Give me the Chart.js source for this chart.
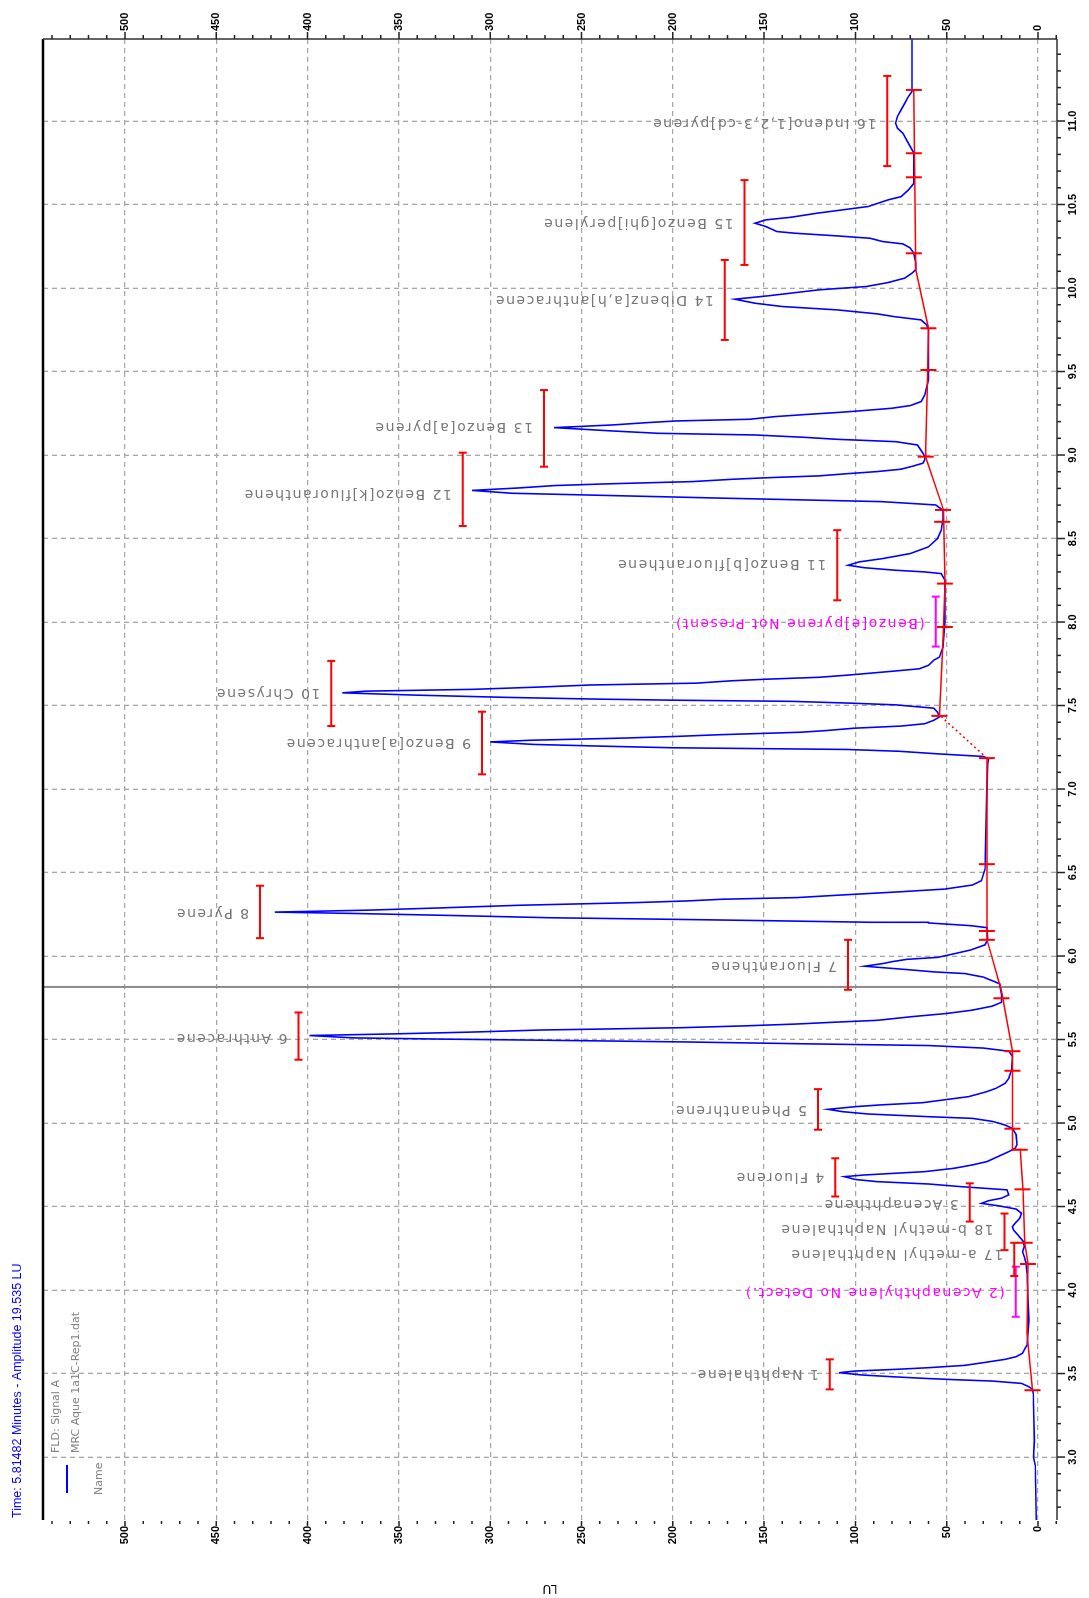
<!DOCTYPE html>
<html>
<head>
<meta charset="utf-8">
<title>FLD chromatogram</title>
<script src="https://cdn.jsdelivr.net/npm/chart.js@4.4.1/dist/chart.umd.min.js"></script>
<style>
  html, body { margin: 0; padding: 0; background: #fff; overflow: hidden; }
  #wrap {
    position: absolute; left: 0; top: 0;
    width: 1598px; height: 1089px;
    transform-origin: 0 0;
    transform: translateY(1598px) rotate(-90deg);
  }
</style>
</head>
<body>
<div id="wrap"><canvas id="chromatogram" width="1598" height="1089"></canvas></div>
<script>
// signal trace, [time (min), LU]
const signal = [
  [2.62, 1.0], [2.80, 1.2], [2.95, 1.5], [3.00, 2.5], [3.10, 2.0], [3.25, 2.3], [3.38, 2.6],
  // 1 naphthalene
  [3.405, 3], [3.421, 5], [3.441, 9], [3.455, 25], [3.463, 45], [3.471, 62], [3.481, 80], [3.491, 96],
  [3.505, 109], [3.515, 100], [3.525, 78], [3.535, 60], [3.549, 40], [3.565, 30], [3.585, 18],
  [3.601, 12], [3.621, 8.5], [3.671, 6], [3.741, 5.5], [3.82, 5],
  [3.95, 5.5], [4.10, 6], [4.16, 6.5], [4.20, 7.5], [4.23, 8.5], [4.26, 7.5],
  [4.29, 8], [4.33, 11], [4.36, 13.5], [4.38, 14], [4.40, 12.5], [4.43, 10], [4.46, 9],
  [4.485, 12], [4.505, 22], [4.519, 31], [4.535, 27], [4.55, 20], [4.57, 16],
  // 4 fluorene
  [4.60, 17], [4.619, 42], [4.635, 60], [4.649, 88], [4.662, 100], [4.679, 106], [4.689, 95],
  [4.709, 62], [4.729, 46], [4.749, 36], [4.769, 28], [4.799, 22], [4.829, 16], [4.849, 12.5],
  // 5 phenanthrene
  [4.87, 11.5], [4.93, 12], [4.968, 14], [4.988, 18], [5.010, 25], [5.028, 36], [5.038, 60],
  [5.054, 93], [5.068, 107], [5.082, 115], [5.098, 100], [5.108, 87], [5.122, 63], [5.138, 52],
  [5.158, 38], [5.188, 28], [5.208, 23], [5.238, 18], [5.268, 16], [5.318, 14.5], [5.40, 14],
  // 6 anthracene
  [5.43, 16], [5.449, 30], [5.464, 60], [5.474, 125], [5.486, 196], [5.496, 272], [5.503, 330],
  [5.510, 375], [5.524, 399], [5.534, 352], [5.545, 309], [5.557, 272], [5.564, 232], [5.571, 195],
  [5.582, 160], [5.593, 132], [5.605, 109], [5.615, 88], [5.636, 70], [5.656, 50], [5.676, 36],
  [5.70, 25], [5.723, 20],
  // 7 fluoranthene
  [5.77, 20], [5.834, 21], [5.874, 30], [5.895, 40], [5.905, 57], [5.919, 72], [5.939, 95],
  [5.955, 85], [5.966, 80], [5.98, 72], [5.992, 55], [6.016, 45], [6.036, 37], [6.067, 29], [6.10, 27.5],
  // 8 pyrene
  [6.17, 28], [6.182, 37], [6.198, 60], [6.202, 91], [6.212, 150], [6.219, 195], [6.229, 266],
  [6.243, 322], [6.255, 375], [6.263, 418], [6.275, 366], [6.289, 325], [6.304, 284], [6.320, 220],
  [6.330, 192], [6.340, 173], [6.350, 132], [6.364, 110], [6.385, 75], [6.401, 51], [6.425, 36],
  [6.451, 31], [6.52, 29],
  [6.80, 28.5], [7.00, 28], [7.15, 27.5], [7.18, 27],
  // 9 benzo[a]anthracene
  [7.195, 30], [7.21, 54], [7.226, 76], [7.237, 105], [7.247, 200], [7.257, 240], [7.267, 276],
  [7.282, 300], [7.292, 278], [7.305, 227], [7.315, 198], [7.325, 175], [7.34, 130], [7.35, 116],
  [7.364, 101], [7.377, 75], [7.391, 62], [7.412, 57], [7.432, 54],
  // 10 chrysene
  [7.46, 55], [7.484, 57], [7.504, 78], [7.514, 102], [7.525, 135], [7.532, 200], [7.539, 245],
  [7.549, 292], [7.562, 340], [7.576, 381], [7.586, 368], [7.597, 309], [7.611, 272], [7.623, 245],
  [7.634, 187], [7.648, 168], [7.658, 148], [7.669, 120], [7.683, 103], [7.706, 79], [7.72, 65],
  [7.741, 60], [7.772, 57], [7.79, 54],
  [7.85, 52], [8.00, 51], [8.15, 51], [8.25, 51],
  // 11 benzo[b]fluoranthene
  [8.29, 53], [8.30, 62], [8.31, 78], [8.325, 95], [8.34, 104], [8.36, 98], [8.38, 85], [8.41, 70],
  [8.45, 60], [8.50, 55], [8.55, 53], [8.62, 52], [8.67, 52],
  // 12 benzo[k]fluoranthene
  [8.701, 56], [8.721, 86], [8.741, 170], [8.755, 225], [8.771, 288], [8.788, 310], [8.803, 284],
  [8.817, 265], [8.827, 237], [8.841, 189], [8.855, 167], [8.865, 146], [8.875, 120], [8.887, 106],
  [8.901, 88], [8.915, 75], [8.935, 68], [8.951, 63], [8.971, 62], [8.99, 62],
  // 13 benzo[a]pyrene
  [9.01, 63], [9.06, 66], [9.08, 78], [9.094, 110], [9.106, 128], [9.12, 155], [9.13, 208],
  [9.144, 233], [9.156, 252], [9.164, 265], [9.18, 233], [9.194, 214], [9.204, 198], [9.214, 158],
  [9.23, 144], [9.242, 128], [9.256, 108], [9.264, 98], [9.28, 80], [9.296, 70], [9.32, 64],
  [9.36, 62], [9.45, 60],
  // 14 dibenz[a,h]anthracene
  [9.60, 60], [9.749, 60], [9.78, 61], [9.809, 64], [9.829, 79], [9.845, 88], [9.869, 110],
  [9.889, 140], [9.909, 155], [9.933, 166], [9.953, 148], [9.989, 120], [10.009, 94], [10.033, 82],
  [10.059, 73], [10.089, 69], [10.109, 67],
  // 15 benzo[ghi]perylene
  [10.15, 67], [10.208, 68], [10.24, 70], [10.264, 74], [10.278, 85], [10.298, 92], [10.312, 110],
  [10.328, 133], [10.338, 143], [10.368, 149], [10.388, 155], [10.408, 149], [10.424, 135],
  [10.448, 121], [10.468, 107], [10.488, 93], [10.528, 82], [10.547, 75], [10.587, 71],
  [10.627, 68], [10.66, 68],
  // 16 indeno[1,2,3-cd]pyrene
  [10.807, 68], [10.847, 70], [10.887, 72], [10.927, 74], [10.957, 77], [10.987, 78], [11.027, 77],
  [11.066, 75], [11.106, 73], [11.146, 71], [11.176, 69], [11.30, 69], [11.49, 69]
];

// integration baseline (red), and the dotted piece between 9 and 10
const baseline = [
  [3.40, 3], [3.74, 6], [4.16, 5.5], [4.28, 7.3], [4.60, 8.2], [4.84, 9.7], [4.841, 14],
  [5.43, 14], [5.79, 20], [6.10, 28], [7.185, 28], [7.443, 54], [7.89, 52], [8.23, 51],
  [8.67, 51.7], [8.99, 61.6], [9.45, 60.5], [9.76, 60], [10.11, 67], [11.19, 68]
];
const dottedFrom = 7.185;
const dottedTo = 7.443;

// peak start / stop marks on the baseline
const marks = [
  [3.40, 3], [4.156, 5.5], [4.283, 7.3], [4.603, 8.5], [4.84, 10], [4.966, 14], [5.313, 14],
  [5.43, 14], [5.747, 20], [6.097, 28], [6.15, 28], [6.55, 28], [7.185, 28], [7.438, 54],
  [7.97, 51], [8.23, 51], [8.60, 52.5], [8.671, 52], [8.99, 61.5], [9.509, 60], [9.759, 60],
  [10.208, 68], [10.663, 68], [10.807, 68], [11.186, 68]
];

// peak labels
const peakNames = [
  "1 Naphthalene", "(2 Acenaphthylene No Detect.)", "17 a-methyl Naphthalene",
  "18 b-methyl Naphthalene", "3 Acenaphthene", "4 Fluorene", "5 Phenanthrene",
  "6 Anthracene", "7 Fluoranthene", "8 Pyrene", "9 Benzo[a]anthracene", "10 Chrysene",
  "(Benzo[e]pyrene Not Present)", "11 Benzo[b]fluoranthene", "12 Benzo[k]fluoranthene",
  "13 Benzo[a]pyrene", "14 Dibenz[a,h]anthracene", "15 Benzo[ghi]perylene",
  "16 Indeno[1,2,3-cd]pyrene"
];
const peakFound = [true, false, true, true, true, true, true, true, true, true, true, true,
  false, true, true, true, true, true, true];
const barStart = [3.405, 3.84, 4.084, 4.239, 4.41, 4.56, 4.96, 5.379, 5.798, 6.107, 7.088, 7.377,
  7.853, 8.13, 8.575, 8.93, 9.689, 10.138, 10.73];
const barEnd = [3.585, 4.14, 4.283, 4.458, 4.639, 4.789, 5.203, 5.662, 6.097, 6.421, 7.463, 7.767,
  8.152, 8.55, 9.014, 9.389, 10.168, 10.646, 11.27];
const barLU = [114, 12.2, 13, 18.3, 37.4, 111, 120.5, 405, 104, 426, 304.5, 387,
  56, 110, 315, 270.6, 171.5, 160.7, 82.6];
const labelTime = [3.50, 3.99, 4.22, 4.37, 4.52, 4.68, 5.08, 5.51, 5.945, 6.26, 7.278, 7.576,
  7.994, 8.35, 8.771, 9.17, 9.93, 10.39, 10.99];

const cursorTime = 5.81482;
const headerText = "Time: 5.81482 Minutes - Amplitude 19.535 LU";
const legendLines = ["FLD: Signal A", "MRC Aque 1a1C-Rep1.dat"];

const timeMin = 2.623, timeMax = 11.491;
const luMin = -10.4, luMax = 544.9;

const RED = "#ff0000";
const MAGENTA = "#ff00ff";
const LABEL_GRAY = "#767676";

const toXY = arr => arr.map(p => ({ x: p[0], y: p[1] }));

const overlay = {
  id: "overlay",
  beforeDatasetsDraw(chart) {
    const { ctx, chartArea: a, scales: { x } } = chart;
    const cx = x.getPixelForValue(cursorTime);
    ctx.save();
    ctx.strokeStyle = "#8a8a8a";
    ctx.lineWidth = 2;
    ctx.beginPath();
    ctx.moveTo(cx, a.top);
    ctx.lineTo(cx, a.bottom);
    ctx.stroke();
    ctx.restore();
  },
  afterDatasetsDraw(chart) {
    const { ctx, scales: { x, y } } = chart;
    ctx.save();
    ctx.font = "14px 'DejaVu Sans'";
    ctx.letterSpacing = "1.5px";
    peakNames.forEach((name, i) => {
      const col = peakFound[i] ? RED : MAGENTA;
      const x1 = x.getPixelForValue(barStart[i]);
      const x2 = x.getPixelForValue(barEnd[i]);
      const yb = y.getPixelForValue(barLU[i]);
      ctx.strokeStyle = col;
      ctx.lineWidth = 2;
      ctx.beginPath();
      ctx.moveTo(x1, yb); ctx.lineTo(x2, yb);
      ctx.moveTo(x1, yb - 4); ctx.lineTo(x1, yb + 4);
      ctx.moveTo(x2, yb - 4); ctx.lineTo(x2, yb + 4);
      ctx.stroke();

      ctx.save();
      ctx.translate(x.getPixelForValue(labelTime[i]), yb - 11);
      ctx.rotate(-Math.PI / 2);
      ctx.fillStyle = peakFound[i] ? LABEL_GRAY : MAGENTA;
      ctx.textAlign = "left";
      ctx.textBaseline = "middle";
      ctx.fillText(name, 0, 0);
      ctx.restore();
    });
    ctx.restore();
  },
  afterDraw(chart) {
    const { ctx, chartArea: a, scales: { x, y } } = chart;
    ctx.save();

    // frame
    ctx.strokeStyle = "#000";
    ctx.lineWidth = 2.5;
    ctx.beginPath();
    ctx.moveTo(a.left, a.top); ctx.lineTo(a.right, a.top);
    ctx.stroke();
    ctx.strokeStyle = "#333";
    ctx.lineWidth = 1.5;
    ctx.beginPath();
    ctx.moveTo(a.left, a.bottom); ctx.lineTo(a.right, a.bottom);
    ctx.moveTo(a.right, a.top); ctx.lineTo(a.right, a.bottom);
    ctx.stroke();

    // time ticks (0.1 min, major every 0.5)
    ctx.strokeStyle = "#222";
    ctx.lineWidth = 1.5;
    ctx.beginPath();
    for (let i = Math.ceil(x.min * 10); i <= Math.floor(x.max * 10); i++) {
      const px = x.getPixelForValue(i / 10);
      const len = i % 5 === 0 ? 8 : 4;
      ctx.moveTo(px, a.bottom);
      ctx.lineTo(px, a.bottom + len);
    }
    ctx.stroke();

    // LU ticks (10, major every 50) on both sides
    ctx.beginPath();
    for (let v = Math.ceil(y.min / 10) * 10; v <= y.max; v += 10) {
      const py = y.getPixelForValue(v);
      const major = v % 50 === 0;
      ctx.moveTo(a.right, py);
      ctx.lineTo(a.right + (major ? 7 : 4), py);
      ctx.moveTo(a.left - (major ? 6 : 4), py);
      ctx.lineTo(a.left - 1, py);
    }
    ctx.stroke();

    // axis title
    ctx.fillStyle = "#000";
    ctx.font = "12px 'DejaVu Sans'";
    ctx.save();
    ctx.translate(10, (a.top + a.bottom) / 2);
    ctx.rotate(-Math.PI / 2);
    ctx.textAlign = "center";
    ctx.textBaseline = "middle";
    ctx.fillText("LU", 0, 0);
    ctx.restore();

    // header
    ctx.fillStyle = "#0000ff";
    ctx.font = "12.5px 'Liberation Sans'";
    ctx.textAlign = "left";
    ctx.textBaseline = "middle";
    ctx.fillText(headerText, 80, 18);

    // legend
    ctx.strokeStyle = "#0000ff";
    ctx.lineWidth = 2;
    ctx.beginPath();
    ctx.moveTo(105, 67); ctx.lineTo(133, 67);
    ctx.stroke();
    ctx.fillStyle = "#808080";
    ctx.font = "11px 'DejaVu Sans'";
    ctx.fillText(legendLines[0], 145, 56);
    ctx.fillText(legendLines[1], 145, 76);
    ctx.fillText("Name", 103, 99);

    ctx.restore();
  }
};

const tickFont = { family: "'Liberation Sans', Arial, sans-serif", size: 11, weight: "bold" };

new Chart(document.getElementById("chromatogram"), {
  type: "scatter",
  data: {
    datasets: [
      {
        label: "baseline",
        data: toXY(baseline),
        showLine: true,
        borderColor: RED,
        borderWidth: 1.5,
        pointRadius: 0,
        segment: {
          borderDash: c => (c.p0.parsed.x >= dottedFrom && c.p1.parsed.x <= dottedTo ? [2, 3] : undefined)
        }
      },
      {
        label: "marks",
        data: toXY(marks),
        showLine: false,
        pointStyle: "line",
        pointRotation: 90,
        pointRadius: 8,
        pointBorderColor: RED,
        pointBorderWidth: 2,
        pointBackgroundColor: RED
      },
      {
        label: "FLD: Signal A",
        data: toXY(signal),
        showLine: true,
        borderColor: "#0000ff",
        borderWidth: 1.6,
        pointRadius: 0,
        tension: 0
      }
    ]
  },
  options: {
    responsive: false,
    animation: false,
    devicePixelRatio: 1,
    layout: { padding: { top: 43, left: 0, right: 0, bottom: 0 } },
    plugins: { legend: { display: false }, tooltip: { enabled: false } },
    scales: {
      x: {
        type: "linear",
        position: "bottom",
        min: timeMin,
        max: timeMax,
        afterFit: s => { s.height = 32; },
        ticks: {
          stepSize: 0.5,
          includeBounds: false,
          autoSkip: false,
          maxRotation: 0,
          minRotation: 0,
          padding: 9,
          color: "#000",
          font: tickFont,
          callback: v => Number(v).toFixed(1)
        },
        grid: { color: "#a6a6a6", lineWidth: 1.3, drawTicks: false },
        border: { display: false, dash: [5, 4] }
      },
      y: {
        type: "linear",
        position: "left",
        min: luMin,
        max: luMax,
        afterFit: s => { s.width = 78; },
        ticks: {
          stepSize: 50,
          includeBounds: false,
          autoSkip: false,
          padding: 6,
          color: "#000",
          font: tickFont
        },
        grid: { color: "#a6a6a6", lineWidth: 1.3, drawTicks: false },
        border: { display: false, dash: [5, 4] }
      },
      y2: {
        type: "linear",
        position: "right",
        min: luMin,
        max: luMax,
        afterFit: s => { s.width = 39; },
        ticks: {
          stepSize: 50,
          includeBounds: false,
          autoSkip: false,
          padding: 8,
          color: "#000",
          font: tickFont
        },
        grid: { display: false, drawTicks: false },
        border: { display: false }
      }
    }
  },
  plugins: [overlay]
});
</script>
</body>
</html>
